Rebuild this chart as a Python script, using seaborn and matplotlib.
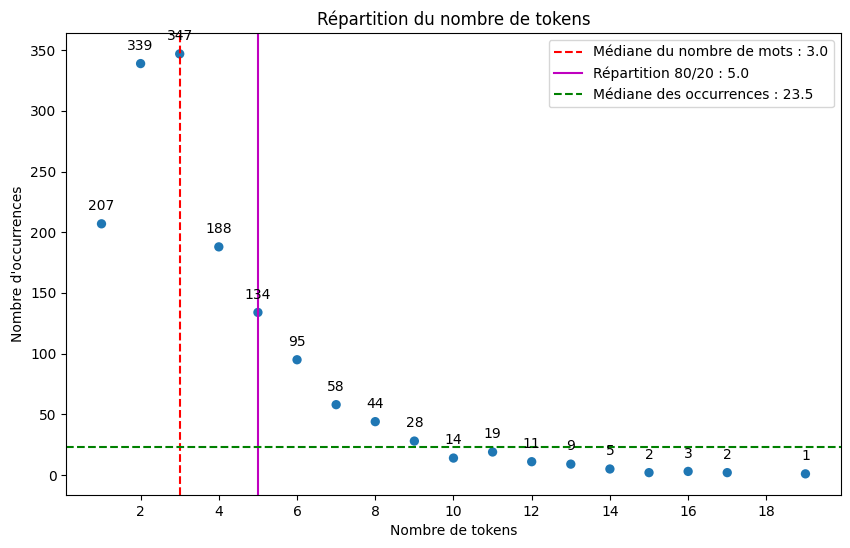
import matplotlib
matplotlib.use("Agg")
import matplotlib.pyplot as plt
import seaborn as sns
import pandas as pd

tokens = [1, 2, 3, 4, 5, 6, 7, 8, 9, 10, 11, 12, 13, 14, 15, 16, 17, 19]
occurrences = [207, 339, 347, 188, 134, 95, 58, 44, 28, 14, 19, 11, 9, 5, 2, 3, 2, 1]
median_words = 3.0
split_80_20 = 5.0
median_occ = 23.5

df = pd.DataFrame({"tokens": tokens, "occ": occurrences})

fig, ax = plt.subplots(figsize=(8.5, 5.48), dpi=100)
sns.scatterplot(data=df, x="tokens", y="occ", ax=ax, s=45, color="#1f77b4", edgecolor="none")
for x, y in zip(tokens, occurrences):
    ax.annotate(str(y), (x, y), textcoords="offset points", xytext=(0, 10), ha="center")

ax.axvline(median_words, color="red", linestyle="--", label=f"Médiane du nombre de mots : {median_words}")
ax.axvline(split_80_20, color="m", linestyle="-", label=f"Répartition 80/20 : {split_80_20}")
ax.axhline(median_occ, color="green", linestyle="--", label=f"Médiane des occurrences : {median_occ}")

ax.set_xticks(range(2, 19, 2))
ax.set_title("Répartition du nombre de tokens")
ax.set_xlabel("Nombre de tokens")
ax.set_ylabel("Nombre d'occurrences")
ax.legend(loc="upper right")
fig.subplots_adjust(left=0.078, right=0.989, top=0.94, bottom=0.097)
fig.savefig("out.png")
